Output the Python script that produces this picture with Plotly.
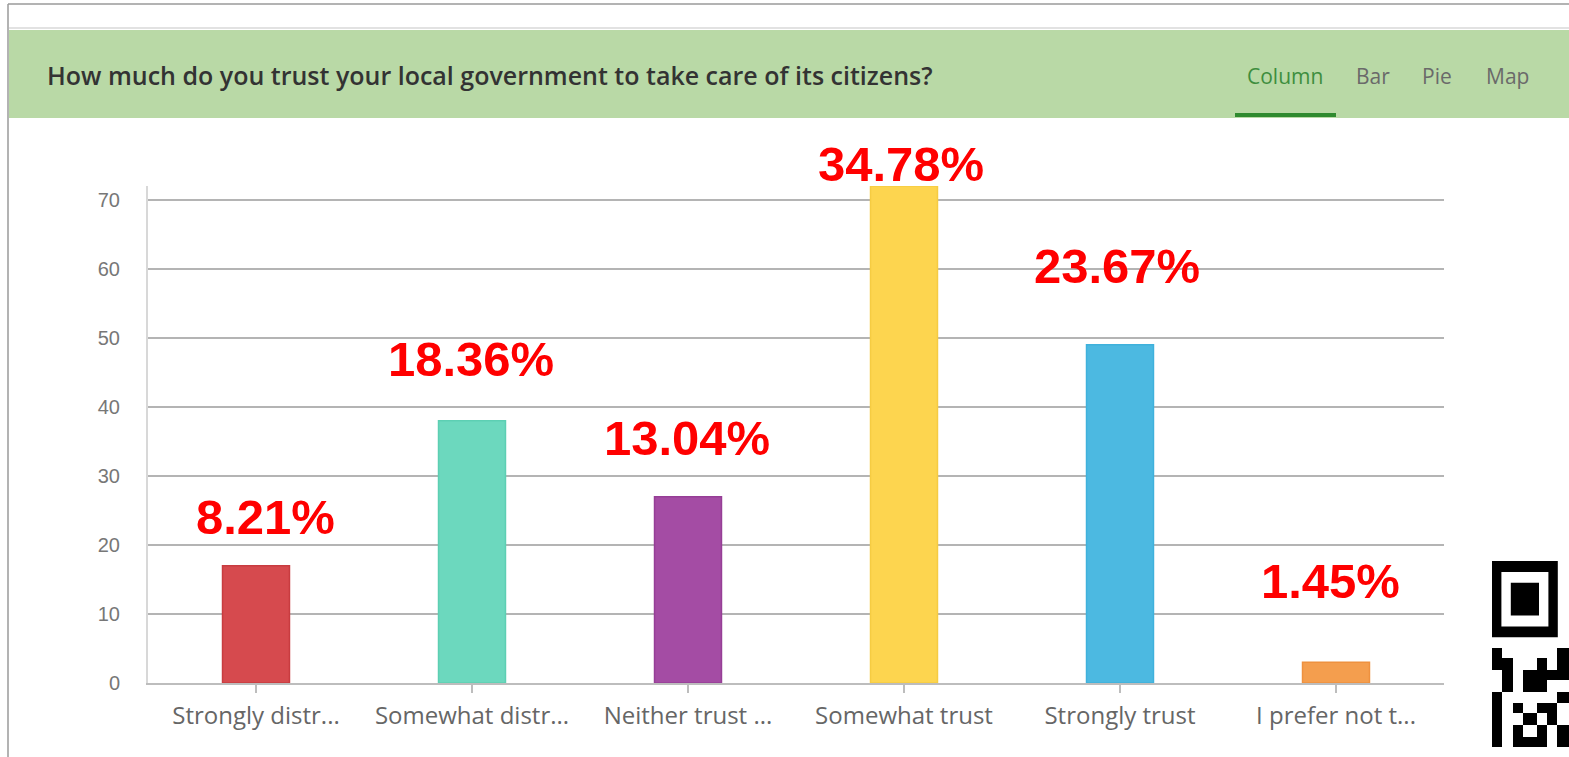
import plotly.graph_objects as go

# ---------------- data ----------------
categories = ["Strongly distr...", "Somewhat distr...", "Neither trust ...",
              "Somewhat trust", "Strongly trust", "I prefer not t..."]
counts = [17, 38, 27, 72, 49, 3]
percent_labels = ["8.21%", "18.36%", "13.04%", "34.78%", "23.67%", "1.45%"]
y_ticks = [0, 10, 20, 30, 40, 50, 60, 70]
title_text = "How much do you trust your local government to take care of its citizens?"
tab_labels = ["Column", "Bar", "Pie", "Map"]

# ---------------- styles ----------------
bar_fill = ["#d64a4e", "#6cd8be", "#a44ca4", "#fdd54f", "#4cb9e1", "#f49e4e"]
bar_edge = ["#c83c40", "#5dcfb3", "#963e96", "#f6cc42", "#3fb1dc", "#ee913f"]
label_lift = [20, 33, 30, -7, 50, 52]    # px above bar top
label_nudge = [9, -1, -1, -3, -3, -6]    # px horizontal nudge

W, H = 1569, 757
PL, PR, PT, PB = 148, 1444, 186, 683  # plot area in pixels

def px(x):
    return (x - PL) / (PR - PL)

def py(y):
    return (PB - y) / (PB - PT)

fig = go.Figure()
fig.add_trace(go.Bar(
    x=categories, y=counts, width=0.31,
    marker=dict(color=bar_fill, line=dict(color=bar_edge, width=1.5)),
    hoverinfo="x+y",
))

shapes = []
annotations = []

# outer frame and header band
shapes.append(dict(type="line", xref="paper", yref="paper",
                   x0=px(8), x1=px(W), y0=py(4), y1=py(4),
                   line=dict(color="#9a9a9a", width=1.5)))
shapes.append(dict(type="line", xref="paper", yref="paper",
                   x0=px(8), x1=px(8), y0=py(4), y1=py(H),
                   line=dict(color="#9a9a9a", width=1.5)))
shapes.append(dict(type="line", xref="paper", yref="paper",
                   x0=px(9), x1=px(W), y0=py(28), y1=py(28),
                   line=dict(color="#e2e2e2", width=2)))
shapes.append(dict(type="rect", xref="paper", yref="paper",
                   x0=px(9), x1=px(W), y0=py(118), y1=py(30),
                   fillcolor="#b9d9a6", line=dict(width=0)))
shapes.append(dict(type="rect", xref="paper", yref="paper",
                   x0=px(1235), x1=px(1336), y0=py(117), y1=py(113),
                   fillcolor="#2f8a2f", line=dict(width=0)))

annotations.append(dict(text=title_text, xref="paper", yref="paper",
                        x=px(45), y=py(75), xanchor="left", yanchor="middle",
                        showarrow=False,
                        font=dict(family="Open Sans", size=25, color="#333333", weight=600)))
tab_x = [1285, 1373, 1437, 1507]
for i, t in enumerate(tab_labels):
    annotations.append(dict(text=t, xref="paper", yref="paper",
                            x=px(tab_x[i]), y=py(76), xanchor="center", yanchor="middle",
                            showarrow=False,
                            font=dict(family="Open Sans", size=21,
                                      color="#3e8e3e" if i == 0 else "#6a6a6a")))

# percentage labels
for i, (c, v, t) in enumerate(zip(categories, counts, percent_labels)):
    annotations.append(dict(text=t, x=c, y=v, xref="x", yref="y",
                            xanchor="center", yanchor="bottom",
                            yshift=label_lift[i], xshift=label_nudge[i],
                            showarrow=False,
                            font=dict(family="Arial, Liberation Sans", size=49,
                                      color="#ff0000", weight="bold")))

# QR-code fragment (decoration)
qr_x0, qr_y0, mw, mh = 1492, 561, 9.4, 10.9
shapes.append(dict(type="rect", xref="paper", yref="paper",
                   x0=px(qr_x0), x1=px(qr_x0 + 7 * mw), y0=py(qr_y0 + 7 * mh), y1=py(qr_y0),
                   fillcolor="black", line=dict(width=0)))
shapes.append(dict(type="rect", xref="paper", yref="paper",
                   x0=px(qr_x0 + mw), x1=px(qr_x0 + 6 * mw), y0=py(qr_y0 + 6 * mh), y1=py(qr_y0 + mh),
                   fillcolor="white", line=dict(width=0)))
shapes.append(dict(type="rect", xref="paper", yref="paper",
                   x0=px(qr_x0 + 2 * mw), x1=px(qr_x0 + 5 * mw), y0=py(qr_y0 + 5 * mh), y1=py(qr_y0 + 2 * mh),
                   fillcolor="black", line=dict(width=0)))
qr_rows = [
    "1000001",
    "1100101",
    "0101111",
    "0101100",
    "1000001",
    "1010110",
    "1001010",
    "1010101",
    "1011101",
]
col_edges = [1492, 1502, 1513, 1523, 1537, 1547, 1557, 1569]
row_edges = [648, 658, 670, 680, 692, 703, 713, 725, 737, 747]
for r, row in enumerate(qr_rows):
    for c, ch in enumerate(row):
        if ch == "1":
            shapes.append(dict(type="rect", xref="paper", yref="paper",
                               x0=px(col_edges[c]), x1=px(col_edges[c + 1]),
                               y0=py(row_edges[r + 1]), y1=py(row_edges[r]),
                               fillcolor="black", line=dict(width=0)))

fig.update_layout(
    width=W, height=H,
    margin=dict(l=PL, r=W - PR, t=PT, b=H - PB),
    paper_bgcolor="white", plot_bgcolor="white",
    showlegend=False,
    shapes=shapes, annotations=annotations,
    bargap=0.69,
    xaxis=dict(showline=True, linecolor="#bdbdbd", linewidth=2,
               ticks="outside", ticklen=8, tickcolor="#bdbdbd", tickwidth=2,
               ticklabelstandoff=2,
               tickfont=dict(family="Open Sans", size=24, color="#666666"),
               showgrid=False, fixedrange=True),
    yaxis=dict(range=[0, 72], tickvals=y_ticks, showline=True,
               linecolor="#d8d8d8", linewidth=2,
               gridcolor="#b4b4b4", gridwidth=2, zeroline=False,
               ticks="", ticklabelstandoff=22,
               tickfont=dict(family="Arial, Liberation Sans", size=20, color="#777777"),
               fixedrange=True),
)

fig.write_html("out.html", config={"displayModeBar": False},
               post_script="document.body.style.margin='0';")
